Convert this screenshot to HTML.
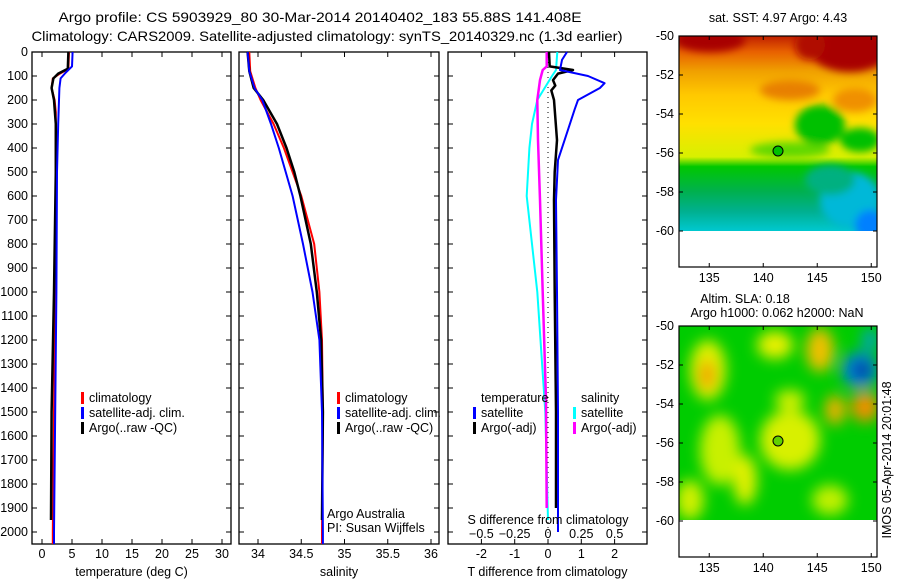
<!DOCTYPE html>
<html><head><meta charset="utf-8">
<style>
html,body{margin:0;padding:0;background:#fff;}
svg{display:block;font-family:"Liberation Sans",sans-serif;}
text{font-size:12.5px;fill:#000;}
</style></head>
<body>
<svg id="fig" width="900" height="580" viewBox="0 0 900 580" xmlns="http://www.w3.org/2000/svg">
<defs>
<filter id="blur4" x="-50%" y="-50%" width="200%" height="200%"><feGaussianBlur stdDeviation="4"/></filter>
<filter id="blur7" x="-50%" y="-50%" width="200%" height="200%"><feGaussianBlur stdDeviation="7"/></filter>
<clipPath id="cm1"><rect x="679" y="36" width="198" height="195"/></clipPath>
<clipPath id="cm2"><rect x="679" y="326" width="198" height="194"/></clipPath>
<linearGradient id="sstg" x1="0" y1="0" x2="0" y2="1">
<stop offset="0" stop-color="#c02000"/><stop offset="0.08" stop-color="#e86000"/>
<stop offset="0.18" stop-color="#f0a000"/><stop offset="0.3" stop-color="#ffc800"/>
<stop offset="0.45" stop-color="#ffe000"/><stop offset="0.62" stop-color="#d8f000"/>
<stop offset="0.67" stop-color="#00c800"/><stop offset="0.8" stop-color="#00b050"/>
<stop offset="0.9" stop-color="#00b090"/><stop offset="1" stop-color="#00c8d0"/></linearGradient>
</defs>
<text x="320" y="22" text-anchor="middle" textLength="523" lengthAdjust="spacingAndGlyphs" style="font-size:14px">Argo profile: CS 5903929_80 30-Mar-2014 20140402_183 55.88S 141.408E</text>
<text x="327" y="41" text-anchor="middle" textLength="591" lengthAdjust="spacingAndGlyphs" style="font-size:14px">Climatology: CARS2009. Satellite-adjusted climatology: synTS_20140329.nc (1.3d earlier)</text>
<g id="panels"></g>

<!-- SST map -->
<g>
<text x="778" y="22" text-anchor="middle">sat. SST: 4.97 Argo: 4.43</text>
<g clip-path="url(#cm1)">
<rect x="679" y="36" width="198" height="195" fill="url(#sstg)"/>
<g filter="url(#blur4)">
<ellipse cx="710" cy="40" rx="35" ry="12" fill="#a80000"/>
<ellipse cx="850" cy="50" rx="40" ry="22" fill="#a80000"/>
<ellipse cx="810" cy="45" rx="15" ry="15" fill="#b01000"/>
<ellipse cx="790" cy="90" rx="30" ry="10" fill="#e88000"/>
<ellipse cx="855" cy="100" rx="22" ry="12" fill="#f09000"/>
<ellipse cx="820" cy="125" rx="25" ry="20" fill="#00c000"/>
<ellipse cx="860" cy="140" rx="20" ry="12" fill="#00c000"/>
<ellipse cx="790" cy="150" rx="40" ry="8" fill="#60d800"/>
<ellipse cx="850" cy="200" rx="30" ry="28" fill="#00b8d8"/>
<ellipse cx="870" cy="225" rx="15" ry="15" fill="#0080ff"/>
<ellipse cx="830" cy="180" rx="25" ry="15" fill="#00b080"/>
</g>
</g>
<rect x="679" y="36" width="198" height="231" fill="none" stroke="#000" stroke-width="1.2"/>
<circle cx="778" cy="151" r="5" fill="#00c000" stroke="#000"/>
</g>

<!-- SLA map -->
<g>
<text x="745" y="303" text-anchor="middle">Altim. SLA: 0.18</text>
<text x="777" y="317" text-anchor="middle">Argo h1000: 0.062 h2000: NaN</text>
<g clip-path="url(#cm2)">
<rect x="679" y="326" width="198" height="194" fill="#00cc00"/>
<g filter="url(#blur7)">
<ellipse cx="708" cy="370" rx="18" ry="30" fill="#e0f000"/>
<ellipse cx="707" cy="375" rx="8" ry="15" fill="#f0a000"/>
<ellipse cx="790" cy="400" rx="15" ry="10" fill="#d0f000"/>
<ellipse cx="775" cy="345" rx="18" ry="14" fill="#e8f000"/>
<ellipse cx="820" cy="350" rx="14" ry="22" fill="#f0c000"/>
<ellipse cx="790" cy="440" rx="30" ry="30" fill="#d8f000"/>
<ellipse cx="720" cy="450" rx="20" ry="35" fill="#c8f000"/>
<ellipse cx="745" cy="480" rx="12" ry="25" fill="#e0f000"/>
<ellipse cx="690" cy="500" rx="14" ry="20" fill="#d0f000"/>
<ellipse cx="835" cy="410" rx="10" ry="15" fill="#f0b000"/>
<ellipse cx="865" cy="407" rx="14" ry="15" fill="#f09000"/>
<ellipse cx="830" cy="500" rx="18" ry="15" fill="#c0f000"/>
<ellipse cx="860" cy="370" rx="18" ry="18" fill="#0080e0"/>
<ellipse cx="862" cy="370" rx="8" ry="8" fill="#002080"/>
<ellipse cx="870" cy="340" rx="8" ry="12" fill="#00a0c0"/>
</g>
</g>
<rect x="679" y="326" width="198" height="231" fill="none" stroke="#000" stroke-width="1.2"/>
<circle cx="778" cy="441" r="5" fill="#60d000" stroke="#000"/>
</g>
<text transform="translate(891,460) rotate(-90)" text-anchor="middle">IMOS 05-Apr-2014 20:01:48</text>
<g id="mapaxes"></g>
</svg>
<script>
// ---- data ----
const depthTempClim = [0, 70, 90, 110, 150, 200, 250, 500, 1000, 1500, 2000, 2050];
const tempClim      = [4.5, 4.4, 3.0, 1.8, 1.6, 2.1, 2.3, 2.3, 2.2, 2.0, 1.8, 1.8];
const depthTempSat  = [0, 60, 90, 110, 150, 300, 500, 1000, 1500, 2000, 2050];
const tempSat       = [5.1, 5.0, 3.8, 3.1, 2.9, 2.7, 2.5, 2.4, 2.2, 2.0, 2.0];
const depthTempArgo = [0, 70, 90, 110, 150, 200, 300, 500, 1000, 1500, 1950];
const tempArgo      = [4.4, 4.3, 2.7, 1.9, 1.6, 2.0, 2.3, 2.3, 2.0, 1.6, 1.5];

const depthSal   = [0, 80, 150, 200, 300, 400, 500, 600, 800, 1000, 1200, 1500, 2000, 2050];
const salClim    = [33.9, 33.91, 33.97, 34.03, 34.18, 34.3, 34.4, 34.5, 34.65, 34.71, 34.74, 34.75, 34.74, 34.74];
const salSat     = [33.88, 33.9, 33.96, 34.05, 34.15, 34.24, 34.32, 34.4, 34.52, 34.63, 34.71, 34.74, 34.75, 34.75];
const depthSalArgo = [0, 80, 150, 200, 300, 400, 500, 600, 800, 1000, 1200, 1500, 1950];
const salArgo    = [33.88, 33.9, 33.95, 34.06, 34.22, 34.33, 34.42, 34.49, 34.61, 34.68, 34.73, 34.75, 34.74];

const depthTdSat = [0, 33, 75, 100, 130, 150, 200, 240, 367, 450, 617, 1000, 1500, 2000];
const tDiffSat   = [0.57, 0.42, 0.36, 1.2, 1.7, 1.56, 0.9, 0.8, 0.5, 0.3, 0.24, 0.27, 0.3, 0.3];
const depthTdArgo = [0, 60, 75, 90, 117, 140, 160, 200, 367, 500, 617, 1000, 1500, 1900];
const tDiffArgo  = [0.03, 0.05, 0.75, 0.3, 0.15, 0.22, 0.1, 0.18, 0.27, 0.2, 0.18, 0.2, 0.24, 0.24];
const depthSdArgo = [0, 60, 75, 117, 200, 367, 617, 1000, 1450, 1900];
const sDiffArgo  = [-0.01, -0.01, -0.04, -0.06, -0.08, -0.075, -0.06, -0.04, -0.015, -0.01];
const depthSdSat = [0, 75, 100, 200, 300, 400, 600, 1000, 1500, 1950];
const sDiffSat   = [0.07, 0.06, 0.03, -0.08, -0.12, -0.14, -0.16, -0.08, -0.02, 0];

const depthTicks = [0,100,200,300,400,500,600,700,800,900,1000,1100,1200,1300,1400,1500,1600,1700,1800,1900,2000];
const tempTicks = [0,5,10,15,20,25,30];
const salTicks = [34,34.5,35,35.5,36];
const tdTicks = [-2,-1,0,1,2];
const sdTicks = [-0.5,-0.25,0,0.25,0.5];
const latTicks = [-50,-52,-54,-56,-58,-60];
const lonTicks = [135,140,145,150];

// ---- scales ----
const TOP = 52, BOT = 544;
const yD = d => TOP + 0.24 * d;
const xT = t => 42 + 6 * t;
const xS = s => 258 + 86.5 * (s - 34);
const xTd = t => 548 + 33.3 * t;
const xSd = s => 548 + 133.2 * s;

const NS = 'http://www.w3.org/2000/svg';
const root = document.getElementById('panels');
function mk(tag, attrs, parent) {
  const e = document.createElementNS(NS, tag);
  for (const k in attrs) e.setAttribute(k, attrs[k]);
  (parent || root).appendChild(e);
  return e;
}
function txt(x, y, s, anchor, parent) {
  const t = mk('text', {x: x, y: y, 'text-anchor': anchor || 'start'}, parent);
  t.textContent = s;
  return t;
}
function line(xs, ds, xf, color, w, name, parent) {
  const pts = xs.map((v, i) => xf(v).toFixed(1) + ',' + yD(ds[i]).toFixed(1)).join(' ');
  const p = mk('polyline', {points: pts, fill: 'none', stroke: color, 'stroke-width': w, 'stroke-linejoin': 'round'}, parent);
  
  
  return p;
}
function box(x0, x1, name, xticks, xf, xlabel) {
  const g = mk('g', {});
  
  
  mk('rect', {x: x0, y: TOP, width: x1 - x0, height: BOT - TOP, fill: 'none', stroke: '#000', 'stroke-width': 1.3}, g);
  depthTicks.forEach(d => {
    mk('line', {x1: x0, x2: x0 + 5, y1: yD(d), y2: yD(d), stroke: '#000'}, g);
    mk('line', {x1: x1, x2: x1 - 5, y1: yD(d), y2: yD(d), stroke: '#000'}, g);
  });
  if (xticks) xticks.forEach(v => {
    mk('line', {x1: xf(v), x2: xf(v), y1: BOT, y2: BOT - 5, stroke: '#000'}, g);
    mk('line', {x1: xf(v), x2: xf(v), y1: TOP, y2: TOP + 5, stroke: '#000'}, g);
    txt(xf(v), 558, String(v), 'middle', g);
  });
  if (xlabel) txt((x0 + x1) / 2, 576, xlabel, 'middle', g);
  return g;
}
function legend(x, y, items, g) {
  items.forEach((it, i) => {
    mk('rect', {x: x, y: y + i * 15 - 10, width: 3, height: 12, fill: it[1]}, g);
    txt(x + 8, y + i * 15, it[0], 'start', g);
  });
}

// y-axis labels
const yl = mk('g', {});


depthTicks.forEach(d => txt(28, yD(d) + 4, String(d), 'end', yl));

// panel 1
const g1 = box(32, 231, 'temperature-panel', tempTicks, xT, 'temperature (deg C)');
line(tempClim, depthTempClim, xT, '#ff0000', 2, 'temp-climatology-line', g1);
line(tempArgo, depthTempArgo, xT, '#000000', 2.5, 'temp-argo-line', g1);
line(tempSat, depthTempSat, xT, '#0000ff', 2, 'temp-satellite-line', g1);
legend(81, 402, [['climatology', '#f00'], ['satellite-adj. clim.', '#00f'], ['Argo(..raw -QC)', '#000']], g1);

// panel 2
const g2 = box(239, 439, 'salinity-panel', salTicks, xS, 'salinity');
line(salClim, depthSal, xS, '#ff0000', 2, 'sal-climatology-line', g2);
line(salArgo, depthSalArgo, xS, '#000000', 2.5, 'sal-argo-line', g2);
line(salSat, depthSal, xS, '#0000ff', 2, 'sal-satellite-line', g2);
legend(337, 402, [['climatology', '#f00'], ['satellite-adj. clim.', '#00f'], ['Argo(..raw -QC)', '#000']], g2);
txt(327, 518, 'Argo Australia', 'start', g2);
txt(327, 532, 'PI: Susan Wijffels', 'start', g2);

// panel 3
const g3 = box(448, 647, 'difference-panel', tdTicks, xTd, 'T difference from climatology');
mk('line', {x1: 548, x2: 548, y1: TOP, y2: BOT, stroke: '#000', 'stroke-dasharray': '1,4'}, g3);
line(sDiffSat, depthSdSat, xSd, '#00ffff', 2, 'sal-diff-satellite-line', g3);
line(sDiffArgo, depthSdArgo, xSd, '#ff00ff', 2.5, 'sal-diff-argo-line', g3);
line(tDiffArgo, depthTdArgo, xTd, '#000000', 2.5, 'temp-diff-argo-line', g3);
line(tDiffSat, depthTdSat, xTd, '#0000ff', 2, 'temp-diff-satellite-line', g3);
txt(481, 402, 'temperature', 'start', g3);
legend(473, 417, [['satellite', '#00f'], ['Argo(-adj)', '#000']], g3);
txt(581, 402, 'salinity', 'start', g3);
legend(573, 417, [['satellite', '#0ff'], ['Argo(-adj)', '#f0f']], g3);
txt(548, 524, 'S difference from climatology', 'middle', g3);
sdTicks.forEach(v => txt(xSd(v), 538, String(v).replace('-', '\u2212'), 'middle', g3));

// map axes
const ma = document.getElementById('mapaxes');
[[36, 282], [326, 572]].forEach(([top, ly]) => {
  const yl2 = lat => top + (-50 - lat) * 19.5;
  const xl = lon => 679 + (lon - 132.2) * 10.8;
  latTicks.forEach(l => {
    mk('line', {x1: 679, x2: 683, y1: yl2(l), y2: yl2(l), stroke: '#000'}, ma);
    mk('line', {x1: 877, x2: 873, y1: yl2(l), y2: yl2(l), stroke: '#000'}, ma);
    txt(674, yl2(l) + 4, String(l), 'end', ma);
  });
  lonTicks.forEach(l => {
    mk('line', {x1: xl(l), x2: xl(l), y1: top + 231, y2: top + 227, stroke: '#000'}, ma);
    mk('line', {x1: xl(l), x2: xl(l), y1: top, y2: top + 4, stroke: '#000'}, ma);
    txt(xl(l), ly, String(l), 'middle', ma);
  });
});
</script>
</body></html>
